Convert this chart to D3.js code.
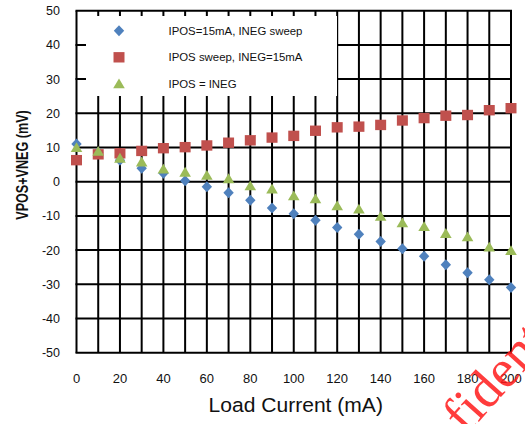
<!DOCTYPE html>
<html>
<head>
<meta charset="utf-8">
<script src="https://cdn.jsdelivr.net/npm/d3@7/dist/d3.min.js"></script>
<style>
  html, body { margin: 0; padding: 0; background: #fff; }
  svg { display: block; }
  text { font-family: Arial, "Liberation Sans", sans-serif; }
  text.wm { font-family: "Liberation Serif", "DejaVu Serif", serif; }
</style>
</head>
<body>
<svg id="chart" width="525" height="424"></svg>
<script>
// ---- data ----
const loadCurrent = [0, 10, 20, 30, 40, 50, 60, 70, 80, 90, 100, 110, 120, 130, 140, 150, 160, 170, 180, 190, 200];
const inegSweep = [11.0, 8.6, 6.3, 3.9, 2.5, 0.3, -1.5, -3.2, -5.4, -7.7, -9.4, -11.3, -13.4, -15.4, -17.5, -19.6, -21.8, -24.3, -26.6, -28.7, -30.9];
const iposSweep = [6.3, 8.0, 8.3, 9.0, 9.8, 10.1, 10.6, 11.4, 12.1, 12.9, 13.4, 14.9, 15.9, 16.1, 16.6, 17.9, 18.6, 19.3, 19.5, 20.9, 21.5];
const iposEqIneg = [9.9, 8.8, 6.8, 5.7, 3.6, 2.7, 1.8, 0.8, -1.3, -2.2, -4.2, -5.1, -7.1, -8.1, -10.2, -12.1, -13.2, -15.2, -16.2, -19.2, -20.2];
const seriesNames = ["IPOS=15mA, INEG sweep", "IPOS sweep, INEG=15mA", "IPOS = INEG"];
const xTicks = [0, 20, 40, 60, 80, 100, 120, 140, 160, 180, 200];
const yTicks = [-50, -40, -30, -20, -10, 0, 10, 20, 30, 40, 50];
const xGrid = d3.range(0, 201, 10);
const yGrid = d3.range(-50, 51, 10);
const xTitle = "Load Current (mA)";
const yTitle = "VPOS+VNEG (mV)";
const watermark = "Confidential";

const colors = ["#4F81BD", "#C0504D", "#9BBB59"];

const svg = d3.select("#chart");
const x = d3.scaleLinear().domain([0, 200]).range([76.5, 511]);
const y = d3.scaleLinear().domain([-50, 50]).range([352.7, 10.7]);

// grid
const g = svg.append("g");
g.selectAll("line.v").data(xGrid).enter().append("line")
  .attr("x1", d => x(d)).attr("x2", d => x(d))
  .attr("y1", y(-50)).attr("y2", y(50))
  .attr("stroke", "#000").attr("stroke-width", 2);
g.selectAll("line.h").data(yGrid).enter().append("line")
  .attr("x1", x(0) - 1).attr("x2", x(200) + 1)
  .attr("y1", d => y(d)).attr("y2", d => y(d))
  .attr("stroke", "#000").attr("stroke-width", 2);

// legend box (covers grid)
const legend = svg.append("g");
legend.append("rect")
  .attr("x", 86).attr("y", 16).attr("width", 251).attr("height", 80)
  .attr("fill", "#fff");

// axis tick labels
svg.append("g").selectAll("text").data(yTicks).enter().append("text")
  .attr("x", 60).attr("y", d => y(d)).attr("dy", "0.36em")
  .attr("text-anchor", "end").attr("font-size", 12.5).attr("fill", "#111")
  .text(d => d);
svg.append("g").selectAll("text").data(xTicks).enter().append("text")
  .attr("x", d => x(d)).attr("y", 383)
  .attr("text-anchor", "middle").attr("font-size", 13).attr("fill", "#111")
  .text(d => d);

// titles
svg.append("text")
  .attr("transform", "translate(" + ((x(0) + x(200)) / 2 + 2) + ",412) scale(1.08,1)")
  .attr("text-anchor", "middle").attr("font-size", 19.5).attr("fill", "#111")
  .text(xTitle);
svg.append("text")
  .attr("transform", "translate(28,165) scale(1.25,1) rotate(-90)")
  .attr("text-anchor", "middle").attr("font-size", 12.6).attr("font-weight", "bold").attr("fill", "#111")
  .text(yTitle);

// marker shapes
function diamond(cx, cy) { return `M${cx},${cy - 5.5}L${cx + 5.2},${cy}L${cx},${cy + 5.5}L${cx - 5.2},${cy}Z`; }
function square(cx, cy) { return `M${cx - 5.5},${cy - 5.2}h11v10.4h-11Z`; }
function triangle(cx, cy) { return `M${cx},${cy - 5.6}L${cx + 5.8},${cy + 4.2}L${cx - 5.8},${cy + 4.2}Z`; }
const shapes = [diamond, square, triangle];
const seriesData = [inegSweep, iposSweep, iposEqIneg];

seriesData.forEach((vals, i) => {
  svg.append("g").selectAll("path").data(vals).enter().append("path")
    .attr("d", (d, j) => shapes[i](x(loadCurrent[j]), y(d)))
    .attr("fill", colors[i]);
});

// legend entries
const legY = [30.7, 57.3, 84];
seriesNames.forEach((name, i) => {
  legend.append("path").attr("d", shapes[i](119, legY[i])).attr("fill", colors[i]);
  legend.append("text").attr("x", 168.5).attr("y", legY[i]).attr("dy", "0.36em")
    .attr("font-size", 11.4).attr("fill", "#111").text(name);
});

// watermark fragment (only "fide" falls inside the picture)
const wm = svg.append("g").attr("transform", "translate(466,436) rotate(-48)");
const wmText = wm.append("text").attr("class", "wm")
  .attr("font-size", 54).attr("fill", "#ff1a1a").attr("fill-opacity", 0.85)
  .text(watermark);
const preLen = wmText.node().getSubStringLength(0, 3);
wmText.attr("x", -preLen);
</script>
</body>
</html>
